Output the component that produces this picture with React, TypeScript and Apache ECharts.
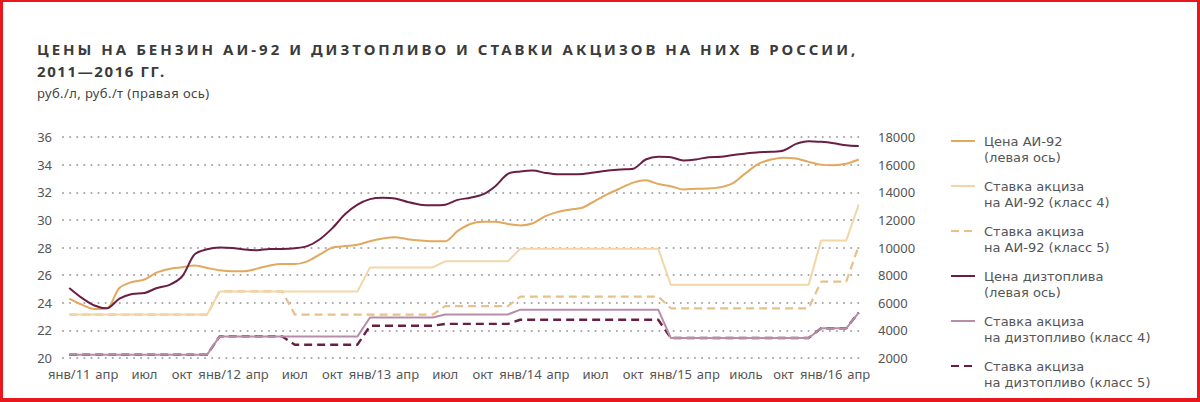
import React, { useEffect, useRef } from "react";
import * as echarts from "echarts";

const categories = [
  "янв/11", "фев", "мар", "апр", "май", "июн", "июл", "авг", "сен", "окт", "ноя", "дек",
  "янв/12", "фев", "мар", "апр", "май", "июн", "июл", "авг", "сен", "окт", "ноя", "дек",
  "янв/13", "фев", "мар", "апр", "май", "июн", "июл", "авг", "сен", "окт", "ноя", "дек",
  "янв/14", "фев", "мар", "апр", "май", "июн", "июл", "авг", "сен", "окт", "ноя", "дек",
  "янв/15", "фев", "мар", "апр", "май", "июн", "июль", "авг", "сен", "окт", "ноя", "дек",
  "янв/16", "фев", "мар", "апр",
];

// Left axis, руб./л
const ai92Price = [
  24.3, 23.86, 23.55, 23.6, 25.07, 25.5, 25.68, 26.2, 26.45, 26.57, 26.7, 26.52,
  26.35, 26.28, 26.28, 26.47, 26.7, 26.8, 26.8, 27.0, 27.5, 28.0, 28.1, 28.2,
  28.45, 28.65, 28.75, 28.6, 28.5, 28.45, 28.45, 29.2, 29.7, 29.86, 29.86, 29.7,
  29.6, 29.76, 30.27, 30.58, 30.75, 30.9, 31.4, 31.88, 32.3, 32.7, 32.87, 32.6,
  32.44, 32.2, 32.25, 32.27, 32.37, 32.68, 33.4, 34.06, 34.37, 34.5, 34.44, 34.2,
  34.0, 33.96, 34.06, 34.37,
];
const dieselPrice = [
  25.07, 24.35, 23.8, 23.6, 24.3, 24.64, 24.7, 25.07, 25.3, 25.9, 27.5, 27.87,
  28.0, 27.97, 27.85, 27.8, 27.9, 27.9, 27.95, 28.1, 28.6, 29.4, 30.4, 31.1,
  31.5, 31.6, 31.55, 31.3, 31.1, 31.05, 31.1, 31.45, 31.6, 31.84, 32.44, 33.33,
  33.5, 33.57, 33.4, 33.3, 33.3, 33.33, 33.45, 33.57, 33.65, 33.7, 34.37, 34.57,
  34.54, 34.3, 34.37, 34.54, 34.57, 34.7, 34.8, 34.9, 34.93, 35.02, 35.5, 35.7,
  35.65, 35.55, 35.4, 35.34,
];

// Right axis, руб./т
const ai92Excise4 = [
  5143, 5143, 5143, 5143, 5143, 5143, 5143, 5143, 5143, 5143, 5143, 5143,
  6822, 6822, 6822, 6822, 6822, 6822, 6822, 6822, 6822, 6822, 6822, 6822,
  8560, 8560, 8560, 8560, 8560, 8560, 9000, 9000, 9000, 9000, 9000, 9000,
  9916, 9916, 9916, 9916, 9916, 9916, 9916, 9916, 9916, 9916, 9916, 9916,
  7300, 7300, 7300, 7300, 7300, 7300, 7300, 7300, 7300, 7300, 7300, 7300,
  10500, 10500, 10500, 13100,
];
const ai92Excise5 = [
  5143, 5143, 5143, 5143, 5143, 5143, 5143, 5143, 5143, 5143, 5143, 5143,
  6822, 6822, 6822, 6822, 6822, 6822, 5143, 5143, 5143, 5143, 5143, 5143,
  5143, 5143, 5143, 5143, 5143, 5143, 5750, 5750, 5750, 5750, 5750, 5750,
  6450, 6450, 6450, 6450, 6450, 6450, 6450, 6450, 6450, 6450, 6450, 6450,
  5600, 5600, 5600, 5600, 5600, 5600, 5600, 5600, 5600, 5600, 5600, 5600,
  7530, 7530, 7530, 10130,
];
const dieselExcise4 = [
  2240, 2240, 2240, 2240, 2240, 2240, 2240, 2240, 2240, 2240, 2240, 2240,
  3562, 3562, 3562, 3562, 3562, 3562, 3562, 3562, 3562, 3562, 3562, 3562,
  4934, 4934, 4934, 4934, 4934, 4934, 5150, 5150, 5150, 5150, 5150, 5150,
  5500, 5500, 5500, 5500, 5500, 5500, 5500, 5500, 5500, 5500, 5500, 5500,
  3450, 3450, 3450, 3450, 3450, 3450, 3450, 3450, 3450, 3450, 3450, 3450,
  4150, 4150, 4150, 5293,
];
const dieselExcise5 = [
  2240, 2240, 2240, 2240, 2240, 2240, 2240, 2240, 2240, 2240, 2240, 2240,
  3562, 3562, 3562, 3562, 3562, 3562, 2962, 2962, 2962, 2962, 2962, 2962,
  4334, 4334, 4334, 4334, 4334, 4334, 4470, 4470, 4470, 4470, 4470, 4470,
  4769, 4769, 4769, 4769, 4769, 4769, 4769, 4769, 4769, 4769, 4769, 4769,
  3450, 3450, 3450, 3450, 3450, 3450, 3450, 3450, 3450, 3450, 3450, 3450,
  4150, 4150, 4150, 5293,
];

const names = [
  "Цена АИ-92\n(левая ось)",
  "Ставка акциза\nна АИ-92 (класс 4)",
  "Ставка акциза\nна АИ-92 (класс 5)",
  "Цена дизтоплива\n(левая ось)",
  "Ставка акциза\nна дизтопливо (класс 4)",
  "Ставка акциза\nна дизтопливо (класс 5)",
];

const titleLines = "ЦЕНЫ НА БЕНЗИН АИ-92 И ДИЗТОПЛИВО И СТАВКИ АКЦИЗОВ НА НИХ В РОССИИ,\n2011—2016 ГГ.";
const subtitle = "руб./л, руб./т (правая ось)";

const FONT = "'Noto Sans', Roboto, sans-serif";
const LEGEND_FONT = "'DejaVu Sans', 'Noto Sans', sans-serif";

export default function App() {
  const ref = useRef<HTMLDivElement | null>(null);
  useEffect(() => {
    if (!ref.current) return;
    const chart = echarts.init(ref.current, null, { renderer: "svg" });
    const line = (name: string, data: number[], color: string, width: number, yAxisIndex: number, opts: any = {}) => ({
      name,
      type: "line",
      data,
      yAxisIndex,
      symbol: "none",
      showSymbol: false,
      lineStyle: { color, width, type: opts.dash ? [8, 5] : "solid" },
      itemStyle: { color },
      smooth: opts.smooth ?? false,
      z: opts.z ?? 2,
    });
    chart.setOption({
      animation: false,
      backgroundColor: "#ffffff",
      title: {
        text: titleLines,
        subtext: subtitle,
        left: 37,
        top: 38,
        itemGap: 3,
        padding: 0,
        textStyle: { fontFamily: FONT, fontSize: 15, fontWeight: "bold", color: "#3b3b3b", lineHeight: 22 },
        subtextStyle: { fontFamily: FONT, fontSize: 13, color: "#444", lineHeight: 16 },
      },
      legend: {
        orient: "vertical",
        left: 950,
        top: 117,
        padding: 0,
        itemWidth: 24,
        itemHeight: 10,
        itemGap: -3,
        data: names,
        formatter: (n: string) => "\n" + n,
        itemStyle: { color: "transparent", borderWidth: 0, opacity: 0 },
        textStyle: { fontFamily: LEGEND_FONT, fontSize: 13, lineHeight: 16, color: "#555", padding: [0, 0, 0, 4] },
      },
      grid: { left: 63, right: 335, top: 137, bottom: 44 },
      xAxis: {
        type: "category",
        data: categories,
        boundaryGap: true,
        axisLine: { show: false },
        axisTick: { show: false },
        axisLabel: { interval: 2, margin: 9, fontFamily: FONT, fontSize: 13, color: "#555" },
      },
      yAxis: [
        {
          type: "value",
          min: 20,
          max: 36,
          interval: 2,
          axisLine: { show: false },
          axisTick: { show: false },
          axisLabel: { margin: 11, fontFamily: FONT, fontSize: 13, color: "#555" },
          splitLine: { show: true, lineStyle: { color: "#a6a6a6", width: 2, type: [0.1, 7], cap: "round" } },
        },
        {
          type: "value",
          min: 2000,
          max: 18000,
          interval: 2000,
          position: "right",
          axisLine: { show: false },
          axisTick: { show: false },
          axisLabel: { margin: 13, fontFamily: FONT, fontSize: 13, color: "#555", formatter: (v: number) => String(v) },
          splitLine: { show: false },
        },
      ],
      series: [
        line(names[2], ai92Excise5, "#E8C08A", 2.2, 1, { dash: true }),
        line(names[1], ai92Excise4, "#F3D5A6", 2, 1),
        line(names[5], dieselExcise5, "#6B1E44", 2.4, 1, { dash: true }),
        line(names[4], dieselExcise4, "#B88DAA", 2, 1),
        line(names[0], ai92Price, "#E2A85E", 2, 0, { smooth: 0.3, z: 3 }),
        line(names[3], dieselPrice, "#6B1E44", 2, 0, { smooth: 0.3, z: 4 }),
      ],
    });
    const apply = () => {
      ref.current?.querySelectorAll("text").forEach((t) => {
        const s = t.textContent || "";
        if (s.startsWith("ЦЕНЫ")) t.setAttribute("letter-spacing", "3");
        if (s.startsWith("2011—2016")) t.setAttribute("letter-spacing", "1.6");
        if (s.startsWith("руб.")) t.setAttribute("letter-spacing", "0.4");
      });
    };
    apply();
    chart.on("finished", apply);
    const id = setTimeout(apply, 30);
    return () => {
      clearTimeout(id);
      chart.dispose();
    };
  }, []);
  return (
    <div style={{ position: "absolute", left: 0, top: 0, width: 1200, height: 402, background: "#fff" }}>
      <div ref={ref} style={{ position: "absolute", left: 0, top: 0, width: 1200, height: 402 }} />
      <div
        style={{
          position: "absolute",
          left: 0,
          top: 0,
          width: 1200,
          height: 402,
          boxSizing: "border-box",
          borderStyle: "solid",
          borderColor: "#e8161d",
          borderWidth: "2px 3px 4px 3px",
          pointerEvents: "none",
        }}
      />
    </div>
  );
}
